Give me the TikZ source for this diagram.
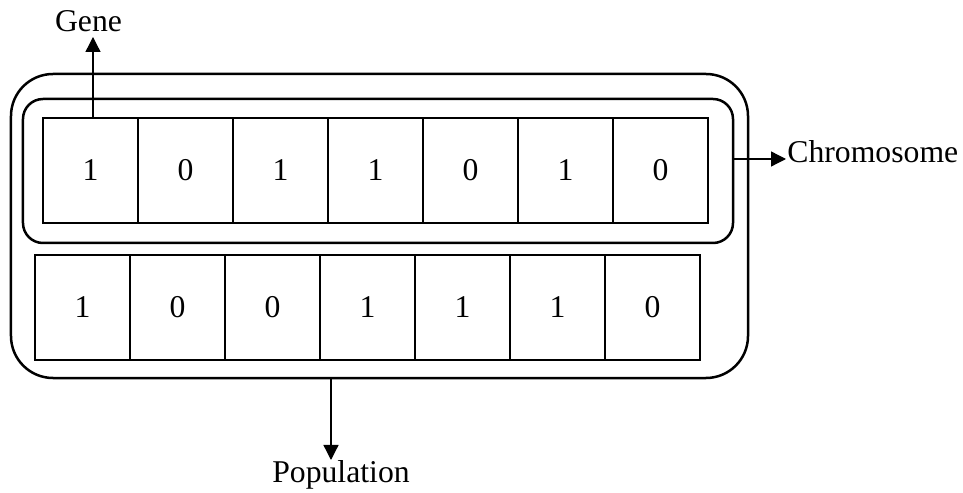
\documentclass[tikz,border=0pt]{standalone}
\usepackage{fontspec}
\setmainfont{Liberation Serif}
\usetikzlibrary{arrows.meta}
\begin{document}
\begin{tikzpicture}[x=0.5bp,y=-0.5bp,
  font=\fontsize{15.85bp}{19bp}\selectfont,
  cell/.style={draw,line width=1.2bp,minimum width=47.5bp,minimum height=52.5bp,inner sep=0pt},
  frame/.style={draw,line width=1.25bp,inner sep=0pt},
  arr/.style={line width=0.65bp,-{Triangle[length=7.5bp,width=7.5bp]}},
  lbl/.style={inner sep=0pt}]
\useasboundingbox (0,0) rectangle (963,493);
% population frame
\node[frame,rounded corners=21bp,minimum width=368.5bp,minimum height=152bp] (pop) at (379.5,226) {};
% chromosome frame
\node[frame,rounded corners=10bp,minimum width=355bp,minimum height=72bp] (chrom) at (378,171) {};
% top chromosome cells
\foreach \v [count=\i from 0] in {1,0,1,1,0,1,0}
  \node[cell] (t\i) at (90.5+95*\i,170.5) {\v};
% bottom chromosome cells
\foreach \v [count=\i from 0] in {1,0,0,1,1,1,0}
  \node[cell] (b\i) at (82.5+95*\i,307.5) {\v};
% labels
\node[lbl,anchor=base] (gene) at (88.5,32) {Gene};
\node[lbl,anchor=base west] (chromlbl) at (787,163) {Chromosome};
\node[lbl,anchor=base] (poplbl) at (341,483) {Population};
% connectors
\coordinate (genetip) at (93,37);
\coordinate (chromtip) at (786,159);
\coordinate (poptip) at (331,460);
\draw[arr] (t0.north -| genetip) -- (genetip);
\draw[arr] (chrom.east |- chromtip) -- (chromtip);
\draw[arr] (pop.south -| poptip) -- (poptip);
\end{tikzpicture}
\end{document}
